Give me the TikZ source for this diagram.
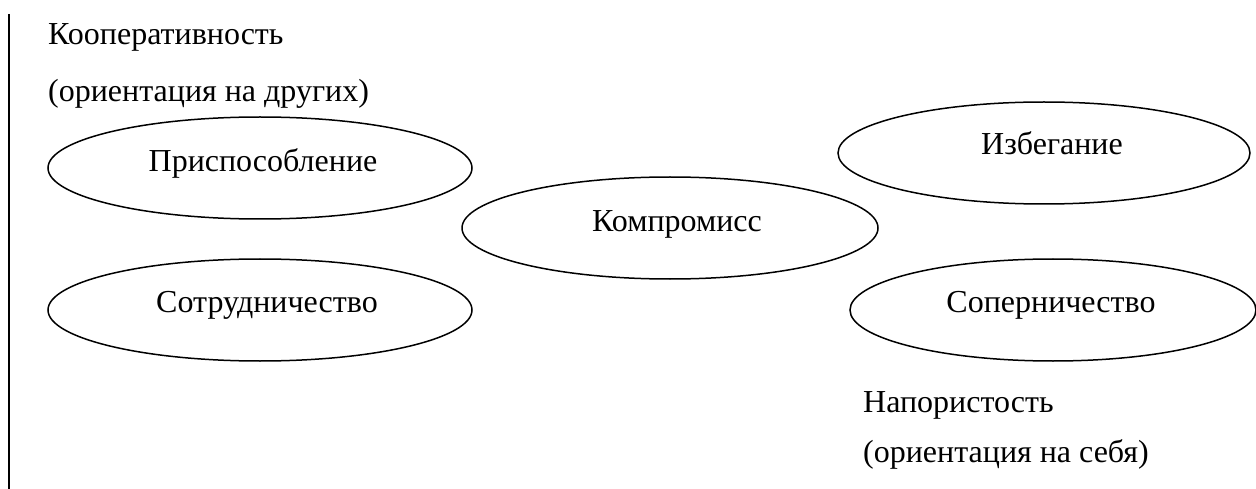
\documentclass[tikz,border=0pt]{standalone}
\usepackage{fontspec}
\setmainfont{Liberation Serif}
\usetikzlibrary{shapes.geometric}
\tikzset{
  oval/.style={draw=black, line width=1.5pt, shape=ellipse, inner sep=0pt},
  lbl/.style={anchor=base, inner sep=0pt, font=\fontsize{32}{38}\selectfont},
  side/.style={anchor=base west, inner sep=0pt, font=\fontsize{32}{38}\selectfont}
}
\begin{document}
\begin{tikzpicture}[x=1pt,y=-1pt]
\useasboundingbox (0,0) rectangle (1256,489);
% vertical axis line
\coordinate (vtop) at (9,14);
\coordinate (vbot) at (9,489);
\draw[line width=2.2pt] (vtop) -- (vbot);
% ellipses
\node[oval, minimum width=424pt, minimum height=102pt] (e1) at (260,168) {};
\node[oval, minimum width=416pt, minimum height=102pt] (e2) at (670,228) {};
\node[oval, minimum width=412pt, minimum height=102pt] (e3) at (1044,153) {};
\node[oval, minimum width=424pt, minimum height=102pt] (e4) at (260,310) {};
\node[oval, minimum width=406pt, minimum height=102pt] (e5) at (1053,310) {};
% ellipse labels
\node[lbl] (t1) at (263,172) {Приспособление};
\node[lbl] (t2) at (677,232) {Компромисс};
\node[lbl] (t3) at (1052,155) {Избегание};
\node[lbl] (t4) at (267,312) {Сотрудничество};
\node[lbl] (t5) at (1051,312) {Соперничество};
% side texts
\node[side] (s1) at (48,45) {Кооперативность};
\node[side] (s2) at (48,102) {(ориентация на других)};
\node[side] (s3) at (863,412) {Напористость};
\node[side] (s4) at (863,462) {(ориентация на себя)};
\end{tikzpicture}
\end{document}
